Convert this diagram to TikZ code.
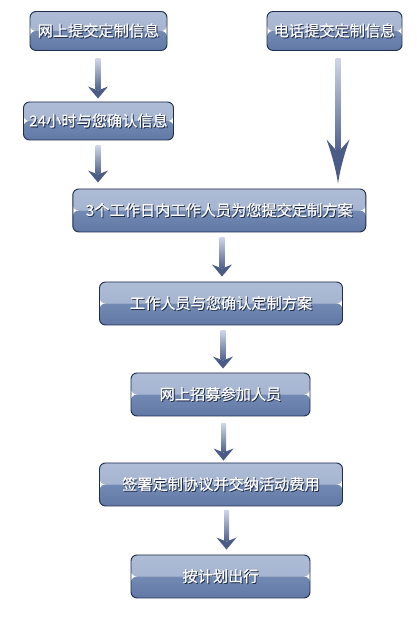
\documentclass[tikz,border=0pt]{standalone}
\usepackage{fontspec}
\newfontfamily\cjk[FakeBold=0.6]{Noto Sans CJK SC}
\usetikzlibrary{calc}
\definecolor{boxborder}{HTML}{1E2C4E}
\definecolor{toplight}{HTML}{AEBCD6}
\definecolor{topmid}{HTML}{9DADCB}
\definecolor{botmid}{HTML}{7289B3}
\definecolor{botdark}{HTML}{6279A6}
\definecolor{shaftlight}{HTML}{CDD6E8}
\definecolor{shaftdark}{HTML}{52648D}
\definecolor{headdark}{HTML}{4A5C86}
\definecolor{txtshadow}{HTML}{1E2C48}
\newcommand\boxtext[1]{\makebox[0pt][l]{\raisebox{-0.9pt}{\kern0.9pt\textcolor{txtshadow}{#1}}}\textcolor{white}{#1}}
\tikzset{
  flowbox/.style={draw=boxborder, line width=0.9pt, rounded corners=6pt,
    inner sep=0pt, font=\cjk\fontsize{15.2}{17}\selectfont,
    path picture={
      \shade[top color=toplight, bottom color=topmid]
        (path picture bounding box.north west) rectangle (path picture bounding box.east);
      \shade[top color=botmid, bottom color=botdark]
        (path picture bounding box.west) rectangle (path picture bounding box.south east);
    }},
}
% #1 from node, #2 to node, #3 x (pt), #4 top gap, #5 bottom gap
\newcommand\smallarrow[5]{%
  \path let \p1=(#1.south), \p2=(#2.north) in
    coordinate (s) at (#3pt, \y1-#4pt) coordinate (e) at (#3pt, \y2+#5pt);
  \shade[top color=shaftlight, bottom color=shaftdark]
    ($(s)+(-2.5,0)$) rectangle ($(e)+(2.5,9)$);
  \fill[headdark] (e) -- ($(e)+(-10,12)$) -- ($(e)+(0,8)$) -- ($(e)+(10,12)$) -- cycle;
}
\newcommand\bigarrow[5]{%
  \path let \p1=(#1.south), \p2=(#2.north) in
    coordinate (s) at (#3pt, \y1-#4pt) coordinate (e) at (#3pt, \y2+#5pt);
  \shade[top color=shaftlight, bottom color=shaftdark]
    ($(s)+(-2.5,0)$) rectangle ($(e)+(2.5,34)$);
  \fill[headdark] (e) .. controls ($(e)+(-2,14)$) and ($(e)+(-7,32)$) .. ($(e)+(-11.5,44)$)
    -- ($(e)+(-2.5,34)$) -- ($(e)+(2.5,34)$) -- ($(e)+(11.5,44)$)
    .. controls ($(e)+(7,32)$) and ($(e)+(2,14)$) .. (e) -- cycle;
}
\begin{document}
\begin{tikzpicture}[x=1pt,y=1pt]
\useasboundingbox[fill=white] (0,0) rectangle (417,626);
\node[flowbox, minimum width=137pt, minimum height=39pt] (n1) at (98.5,595) {\boxtext{网上提交定制信息}};
\node[flowbox, minimum width=135pt, minimum height=39pt] (n2) at (334.5,595) {\boxtext{电话提交定制信息}};
\node[flowbox, minimum width=150pt, minimum height=38pt] (n3) at (98.5,505) {\boxtext{24小时与您确认信息}};
\node[flowbox, minimum width=293pt, minimum height=43pt] (n4) at (219.3,415.5) {\boxtext{3个工作日内工作人员为您提交定制方案}};
\node[flowbox, minimum width=243pt, minimum height=43pt] (n5) at (221,322.5) {\boxtext{工作人员与您确认定制方案}};
\node[flowbox, minimum width=179pt, minimum height=43pt] (n6) at (220.5,231.5) {\boxtext{网上招募参加人员}};
\node[flowbox, minimum width=243pt, minimum height=43pt] (n7) at (221,141.5) {\boxtext{签署定制协议并交纳活动费用}};
\node[flowbox, minimum width=179pt, minimum height=43pt] (n8) at (220.5,49.5) {\boxtext{按计划出行}};
\smallarrow{n1}{n3}{98}{8}{3}
\smallarrow{n3}{n4}{98}{5}{6}
\bigarrow{n2}{n4}{338}{8}{5}
\smallarrow{n4}{n5}{222}{5}{5}
\smallarrow{n5}{n6}{223}{5}{4}
\smallarrow{n6}{n7}{223.5}{7}{2}
\smallarrow{n7}{n8}{226.5}{4}{5}
\end{tikzpicture}
\end{document}
